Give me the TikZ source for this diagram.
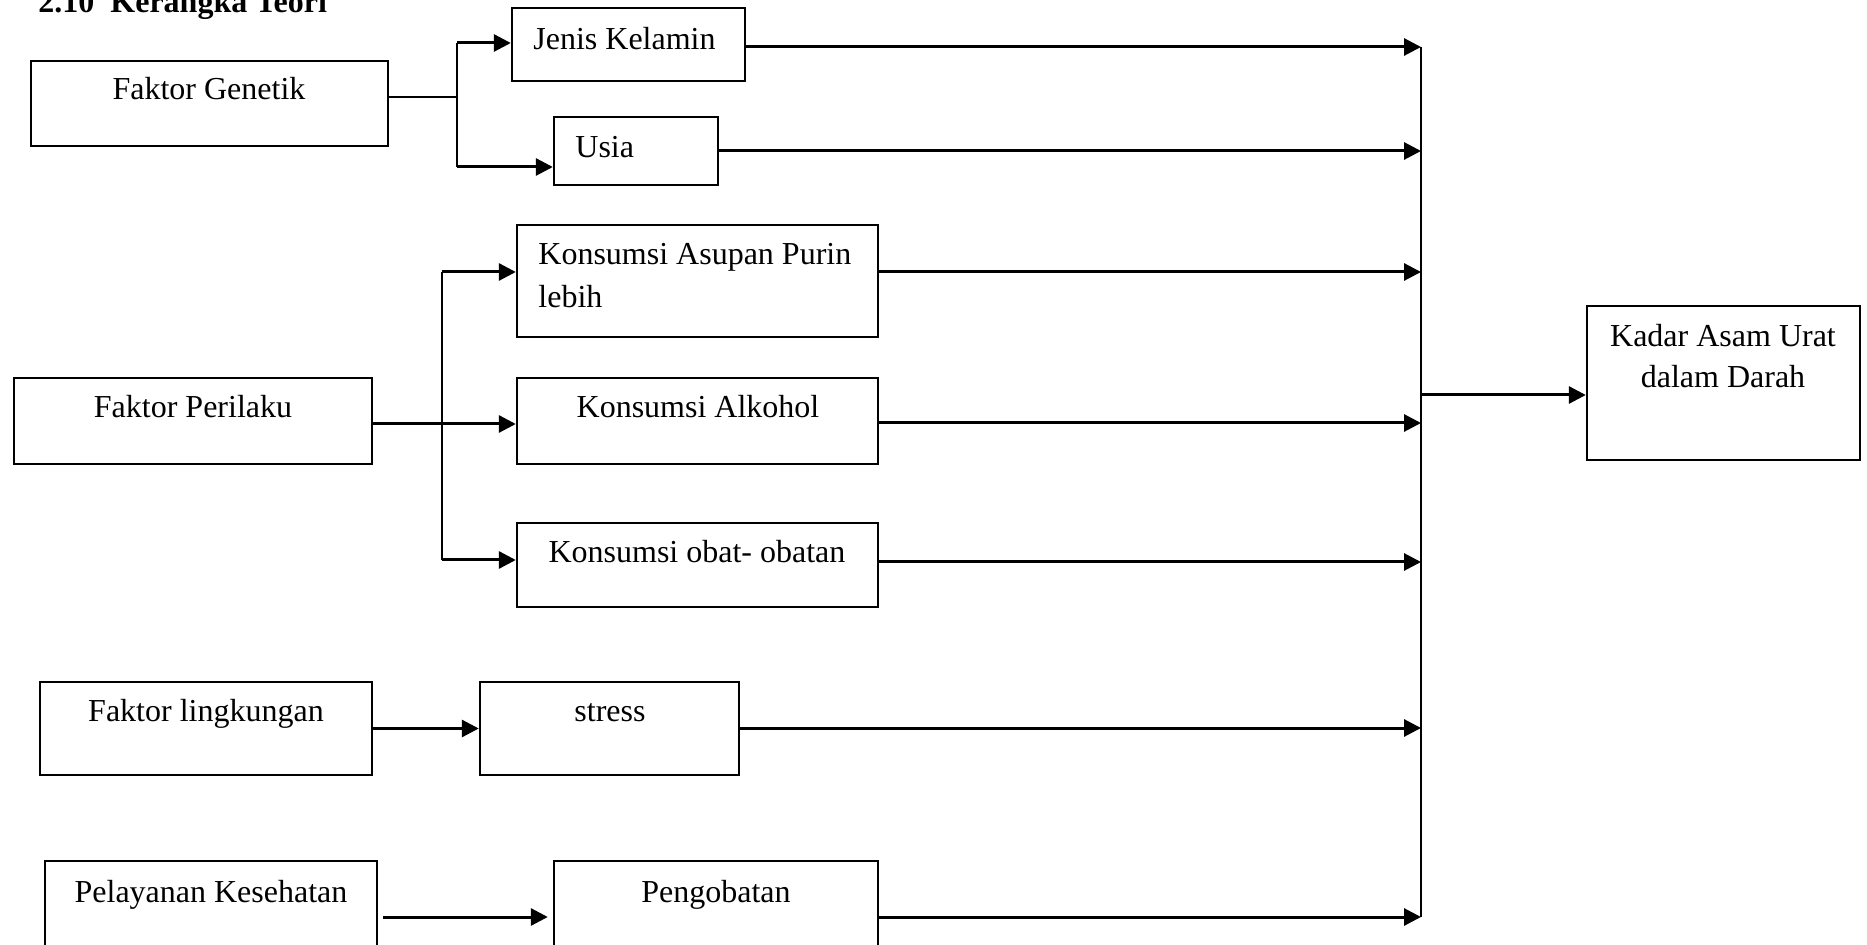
\documentclass[tikz,border=0pt]{standalone}
\usepackage{fontspec}
\setmainfont{Liberation Serif}
\usetikzlibrary{arrows.meta,fit}
\begin{document}
\begin{tikzpicture}[x=0.5pt,y=-0.5pt,
  box/.style={draw, line width=1.2pt, inner sep=0pt, rectangle},
  txt/.style={inner sep=0pt, font=\fontsize{16pt}{21pt}\selectfont},
  arr/.style={line width=1.5pt, -{Triangle[length=8.5pt,width=8.5pt]}},
  ln/.style={line width=1.5pt},
  thinln/.style={line width=1pt}]
\useasboundingbox (0,0) rectangle (1867,945);
% title
\node[txt, font=\fontsize{16pt}{21pt}\selectfont\bfseries, anchor=base west] (title) at (38,13) {2.10\ \ Kerangka Teori};
% boxes
\node[box, fit={(31,61)(388,146)}] (fg) {};
\node[box, fit={(512,8)(745,81)}] (jk) {};
\node[box, fit={(554,117)(718,185)}] (us) {};
\node[box, fit={(517,225)(878,337)}] (kap) {};
\node[box, fit={(14,378)(372,464)}] (fp) {};
\node[box, fit={(517,378)(878,464)}] (ka) {};
\node[box, fit={(517,523)(878,607)}] (ko) {};
\node[box, fit={(40,682)(372,775)}] (fl) {};
\node[box, fit={(480,682)(739,775)}] (st) {};
\node[box, fit={(45,861)(377,965)}] (pk) {};
\node[box, fit={(554,861)(878,965)}] (pg) {};
\node[box, fit={(1587,306)(1860,460)}] (kd) {};
% texts
\node[txt, anchor=base] (tfg) at (209,100) {Faktor Genetik};
\node[txt, anchor=base west] (tjk) at (533,50) {Jenis Kelamin};
\node[txt, anchor=base west] (tus) at (575,158) {Usia};
\node[txt, anchor=base west] (tkap1) at (538,265) {Konsumsi Asupan Purin};
\node[txt, anchor=base west] (tkap2) at (538,308) {lebih};
\node[txt, anchor=base] (tfp) at (193,418) {Faktor Perilaku};
\node[txt, anchor=base] (tka) at (698,418) {Konsumsi Alkohol};
\node[txt, anchor=base] (tko) at (697,563) {Konsumsi obat- obatan};
\node[txt, anchor=base] (tfl) at (206,721) {Faktor lingkungan};
\node[txt, anchor=base] (tst) at (610,721) {stress};
\node[txt, anchor=base] (tpk) at (211,902) {Pelayanan Kesehatan};
\node[txt, anchor=base] (tpg) at (716,902) {Pengobatan};
\node[txt, anchor=base] (tkd1) at (1723,347) {Kadar Asam Urat};
\node[txt, anchor=base] (tkd2) at (1723,388) {dalam Darah};
% collector coordinates
\coordinate (cJK) at (1421,47);
\coordinate (cU) at (1421,151);
\coordinate (cKAP) at (1421,272);
\coordinate (cK) at (1421,395);
\coordinate (cKA) at (1421,423);
\coordinate (cKO) at (1421,562);
\coordinate (cS) at (1421,728);
\coordinate (cP) at (1421,917);
% genetik branch
\coordinate (gb) at (457,97);
\coordinate (gt) at (457,43);
\coordinate (gu) at (457,167);
\draw[thinln] (fg.east |- gb) -- (gb);
\draw[thinln] (gt) -- (gu);
\draw[arr] (gt) -- (jk.west |- gt);
\draw[arr] (gu) -- (us.west |- gu);
% perilaku branch
\coordinate (pt) at (442,272);
\coordinate (pm) at (442,424);
\coordinate (pb) at (442,560);
\draw[thinln] (pt) -- (pb);
\draw[arr] (pt) -- (kap.west |- pt);
\draw[arr] (pb) -- (ko.west |- pb);
\draw[arr] (fp.east |- pm) -- (ka.west |- pm);
% lingkungan
\draw[arr] (fl) -- (st);
% pelayanan
\coordinate (pkm) at (460,917);
\draw[arr, shorten <=2.5pt, shorten >=2.5pt] (pk.east |- pkm) -- (pg.west |- pkm);
% to collector
\draw[arr] (jk.east |- cJK) -- (cJK);
\draw[arr] (us.east |- cU) -- (cU);
\draw[arr] (kap.east |- cKAP) -- (cKAP);
\draw[arr] (ka.east |- cKA) -- (cKA);
\draw[arr] (ko.east |- cKO) -- (cKO);
\draw[arr] (st.east |- cS) -- (cS);
\draw[arr] (pg.east |- cP) -- (cP);
\draw[thinln] (cJK) -- (cP);
\draw[arr] (cK) -- (kd.west |- cK);
\end{tikzpicture}
\end{document}
